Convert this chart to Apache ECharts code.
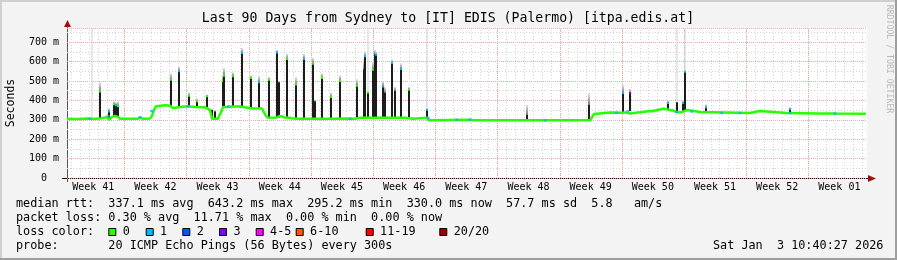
<!DOCTYPE html>
<html><head><meta charset="utf-8">
<script src="https://cdn.jsdelivr.net/npm/echarts@6/dist/echarts.min.js"></script>
<style>html,body{margin:0;padding:0;background:#f3f3f3}#c{width:897px;height:260px}</style>
</head><body><div id="c"></div>
<script>
// ---------- data ----------
const titleText = 'Last 90 Days from Sydney to [IT] EDIS (Palermo) [itpa.edis.at]';
const weekLabels = ['Week 41','Week 42','Week 43','Week 44','Week 45','Week 46','Week 47','Week 48','Week 49','Week 50','Week 51','Week 52','Week 01'];
const yTicks = [0,100,200,300,400,500,600,700];
const spanDays = 90.06;          // x range in days
const yMax = 773;                // ms
const firstWeekStart = 6.45;     // day offset of first week boundary
const firstDayLine = 0.45;       // day offset of first day boundary

// median rtt (ms) at day offsets
const medianDays = [0,1.24,1.46,2.36,2.81,3.71,4.17,4.50,4.73,4.84,5.07,5.40,5.74,5.97,7.99,8.22,8.56,9.34,9.57,9.79,10.02,11.03,11.60,11.93,12.50,12.72,13.51,14.41,15.54,16.10,16.32,17.00,17.34,17.56,18.69,19.48,20.38,20.83,21.95,22.40,22.63,23.64,23.98,24.54,25.10,25.44,26.23,29.61,31.30,32.42,32.98,35.24,36.36,38.05,38.95,40.53,40.75,40.87,45.37,45.71,58.88,59.10,59.33,61.13,62.25,62.93,63.38,65.63,65.86,67.10,67.44,67.88,68.22,68.78,69.23,69.80,70.92,71.26,76.89,77.11,77.68,78.01,81.0,84.5,86.5,89.94];
const medianMs   = [304,304,308,306,304,306,310,315,300,296,315,320,315,305,305,312,305,306,320,350,370,375,372,360,365,372,370,366,365,350,305,305,340,365,368,368,362,358,358,320,310,312,320,312,310,306,305,305,307,305,310,310,310,310,305,310,298,300,300,297,297,300,330,338,336,338,332,345,344,357,355,350,348,338,340,350,343,340,335,335,343,345,335,333,332,331,330];

// smoke spikes: day, base ms, dense-smoke top ms, faint-smoke top ms, loss index at top (-1 none)
const spikeDays  = [2.78,3.71,4.73,5.29,5.52,5.69,11.67,12.64,13.70,14.67,15.73,16.32,16.66,17.56,17.67,18.65,19.70,20.71,21.65,22.71,23.67,23.81,24.73,25.78,26.71,27.73,27.92,28.71,29.69,30.73,32.68,33.38,33.55,33.85,34.41,34.62,34.79,35.57,35.80,36.55,36.92,37.60,38.50,40.49,51.75,58.80,62.63,63.38,67.69,68.70,69.38,69.57,71.90,81.39];
const spikeBase  = [304,306,300,315,315,315,372,365,370,366,365,305,305,368,368,368,368,360,358,310,312,312,315,305,305,305,305,305,305,305,305,305,305,305,305,305,305,310,310,310,310,310,310,305,297,297,336,345,350,340,345,345,340,335];
const spikeTop   = [306,446,343,380,375,370,506,550,424,395,421,350,343,500,527,524,644,515,493,506,647,493,613,482,613,589,395,515,418,500,475,560,627,440,558,641,635,472,440,593,450,562,455,352,326,378,438,438,386,390,386,547,364,355];
const smokeTop   = [773,493,360,395,390,395,540,575,440,410,430,355,350,530,568,545,670,530,525,520,660,500,640,520,640,620,405,540,440,530,510,610,650,773,600,660,650,500,470,610,470,590,470,773,378,438,481,460,400,773,400,773,380,365];
const spikeLoss  = [-1,0,1,0,1,0,0,1,0,0,0,-1,-1,0,0,0,1,0,1,0,1,-1,0,0,1,0,-1,0,0,0,0,-1,1,0,0,1,1,1,-1,1,-1,1,0,1,-1,-1,1,3,1,-1,1,1,1,1];

// median samples with packet loss (day, ms, loss index)
const lossDays = [2.59,4.65,8.22,9.53,13.66,18.16,31.86,40.64,43.87,45.37,53.81,61.88,63.15,68.63,70.33,73.70,75.76,81.39,86.46];
const lossMs   = [306,318,312,345,370,368,305,310,300,300,297,336,343,340,343,335,335,336,332];
const lossIdx  = [1,1,1,1,1,1,1,1,1,1,1,1,1,1,1,1,1,1,1];

const lossColors = ['#26ff00','#00b8ff','#0059ff','#7e00ff','#ff00ff','#ff5500','#ff0000','#a00000'];
const lossNames  = ['0','1','2','3','4-5','6-10','11-19','20/20'];

const legendLines = [
  'median rtt:  337.1 ms avg  643.2 ms max  295.2 ms min  330.0 ms now  57.7 ms sd  5.8   am/s',
  'packet loss: 0.30 % avg  11.71 % max  0.00 % min  0.00 % now',
  'loss color:',
  'probe:       20 ICMP Echo Pings (56 Bytes) every 300s'
];
const dateText = 'Sat Jan  3 10:40:27 2026';

// ---------- derived ----------
const dayLines = []; for (let d = firstDayLine; d < spanDays; d += 1) dayLines.push([d]);
const weekLines = []; for (let d = firstWeekStart; d < spanDays; d += 7) weekLines.push([d]);
const weekLabelData = weekLabels.map((w, i) => [firstWeekStart - 3.5 + 7 * i, w]);

const MONO = '"DejaVu Sans Mono", monospace';
const chart = echarts.init(document.getElementById('c'), null, {renderer: 'canvas'});

function vline(color, dash) {
  return function (params, api) {
    const p0 = api.coord([api.value(0), 0]);
    const p1 = api.coord([api.value(0), yMax]);
    const x = Math.round(p0[0]) + 0.5;
    return {type: 'line', shape: {x1: x, y1: p0[1], x2: x, y2: p1[1]},
      style: {stroke: color, lineWidth: 1, lineDash: dash}, silent: true};
  };
}

const fs = 11.8;
const graphics = [
  {type: 'rect', shape: {x: 0, y: 0, width: 897, height: 2}, style: {fill: '#cfcfcf'}},
  {type: 'rect', shape: {x: 0, y: 0, width: 2, height: 260}, style: {fill: '#cfcfcf'}},
  {type: 'rect', shape: {x: 0, y: 258, width: 897, height: 2}, style: {fill: '#9e9e9e'}},
  {type: 'rect', shape: {x: 895, y: 0, width: 2, height: 260}, style: {fill: '#9e9e9e'}},
  {type: 'text', x: 448, y: 19, style: {text: titleText, font: '13.2px ' + MONO, fill: '#000', align: 'center', verticalAlign: 'middle'}},
  {type: 'text', x: 11, y: 103, rotation: Math.PI / 2, style: {text: 'Seconds', font: '11.5px ' + MONO, fill: '#000', align: 'center', verticalAlign: 'middle'}},
  {type: 'text', x: 889, y: 59, rotation: -Math.PI / 2, style: {text: 'RRDTOOL / TOBI OETIKER', font: '8.2px ' + MONO, fill: '#b8b8b8', align: 'center', verticalAlign: 'middle'}},
  // axis arrows
  {type: 'line', shape: {x1: 67.5, y1: 182, x2: 67.5, y2: 25}, style: {stroke: '#555', lineWidth: 1}},
  {type: 'polygon', shape: {points: [[64, 27], [71, 27], [67.5, 20]]}, style: {fill: '#a01010'}},
  {type: 'line', shape: {x1: 62, y1: 178.5, x2: 869, y2: 178.5}, style: {stroke: '#000', lineWidth: 1}},
  {type: 'polygon', shape: {points: [[868, 175], [868, 182], [876, 178.5]]}, style: {fill: '#a01010'}},
  {type: 'text', x: 713, y: 246.3, style: {text: dateText, font: fs + 'px ' + MONO, fill: '#000', align: 'left', verticalAlign: 'middle'}}
];
const rowY = [204.3, 218.3, 232.3, 246.3];
legendLines.forEach((t, i) => graphics.push({type: 'text', x: 16, y: rowY[i], style: {text: t, font: fs + 'px ' + MONO, fill: '#000', align: 'left', verticalAlign: 'middle'}}));
const boxX = [108.3, 145.7, 182.3, 219, 255.7, 295.7, 365.7, 439.3];
lossNames.forEach((n, i) => {
  graphics.push({type: 'rect', shape: {x: boxX[i] + 0.5, y: 228.5, width: 7, height: 7}, style: {fill: lossColors[i], stroke: '#000', lineWidth: 1}});
  graphics.push({type: 'text', x: boxX[i] + 14.4, y: 232.3, style: {text: n, font: fs + 'px ' + MONO, fill: '#000', align: 'left', verticalAlign: 'middle'}});
});

chart.setOption({
  animation: false,
  backgroundColor: '#f3f3f3',
  grid: {left: 67, right: 30, top: 28, bottom: 82, show: true, backgroundColor: '#ffffff', borderWidth: 0},
  xAxis: {type: 'value', min: 0, max: spanDays, axisLine: {show: false}, axisTick: {show: false}, axisLabel: {show: false}, splitLine: {show: false}},
  yAxis: {type: 'value', min: 0, max: yMax, interval: 100,
    axisLine: {show: false}, axisTick: {show: false},
    axisLabel: {showMaxLabel: false, margin: 8, color: '#000', fontFamily: '"DejaVu Sans Mono", monospace', fontSize: 10,
      formatter: v => (v === 0 ? '0  ' : v + ' m')},
    splitLine: {show: true, lineStyle: {color: '#f2a8a8', width: 1, type: [1, 1]}},
    minorTick: {show: false, splitNumber: 2},
    minorSplitLine: {show: true, lineStyle: {color: '#d4d4d4', width: 1, type: [1, 2]}}
  },
  graphic: graphics,
  series: [
    {type: 'custom', name: 'daygrid', silent: true, z: 1, data: dayLines, renderItem: vline('#d4d4d4', [1, 2])},
    {type: 'custom', name: 'weekgrid', silent: true, z: 1, data: weekLines, renderItem: vline('#f2a8a8', [1, 1])},
    {type: 'custom', name: 'weeklabels', silent: true, z: 1, clip: false, data: weekLabelData,
      renderItem: function (params, api) {
        const p = api.coord([api.value(0), 0]);
        return {type: 'text', x: p[0], y: p[1] + 9, style: {text: weekLabelData[params.dataIndex][1], font: '10px ' + MONO, fill: '#000', align: 'center', verticalAlign: 'middle'}};
      }},
    {type: 'custom', name: 'smoke', silent: true, z: 3,
      data: spikeDays.map((d, i) => [d, spikeBase[i], spikeTop[i], smokeTop[i], spikeLoss[i]]),
      renderItem: function (params, api) {
        const d = api.value(0);
        const pb = api.coord([d, api.value(1)]);
        const pt = api.coord([d, api.value(2)]);
        const ps = api.coord([d, api.value(3)]);
        const x = Math.round(pb[0]) - 1;
        const children = [];
        if (ps[1] < pt[1]) {
          const tall = api.value(3) >= yMax;
          children.push({type: 'rect', shape: {x: tall ? x + 0.5 : x, y: ps[1], width: tall ? 1 : 2, height: pt[1] - ps[1]},
            style: {fill: tall ? '#cfcfcf' : new echarts.graphic.LinearGradient(0, 0, 0, 1, [{offset: 0, color: '#e6e6e6'}, {offset: 1, color: '#7a7a7a'}])}});
        }
        if (pb[1] > pt[1]) children.push({type: 'rect', shape: {x: x, y: pt[1], width: 2, height: pb[1] - pt[1]}, style: {fill: '#1c1c1c'}});
        const li = api.value(4);
        if (li >= 0) children.push({type: 'rect', shape: {x: x, y: pt[1] - 1, width: 2, height: 2}, style: {fill: lossColors[li]}});
        return {type: 'group', children: children};
      }},
    {type: 'line', name: 'median', z: 4, showSymbol: false, silent: true,
      data: medianDays.map((d, i) => [d, medianMs[i]]),
      lineStyle: {color: lossColors[0], width: 2.5}},
    {type: 'scatter', name: 'loss', z: 5, silent: true, symbol: 'rect', symbolSize: [3, 2.5],
      data: lossDays.map((d, i) => [d, lossMs[i], lossIdx[i]]),
      itemStyle: {color: p => lossColors[p.data[2]]}}
  ]
});
</script>
</body></html>
